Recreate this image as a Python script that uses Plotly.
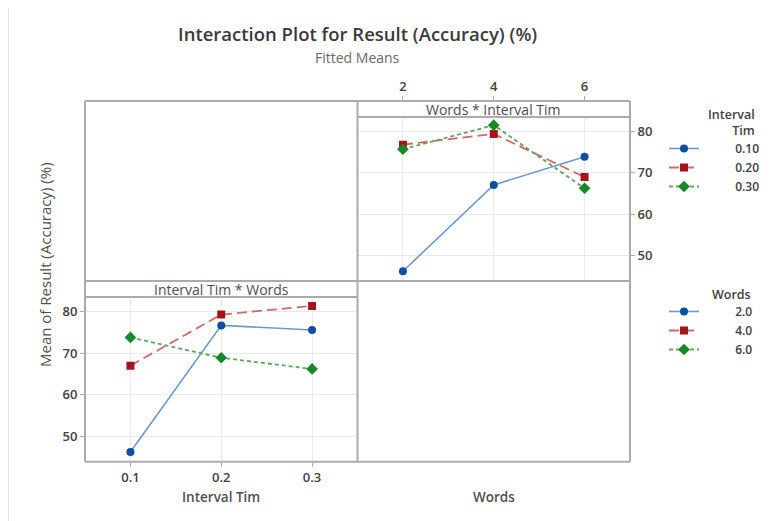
import plotly.graph_objects as go

# ---- data (fitted means) ----
interval_levels = [0.1, 0.2, 0.3]
interval_labels = ["0.10", "0.20", "0.30"]
words_levels = [2, 4, 6]
words_labels = ["2.0", "4.0", "6.0"]
# rows: interval time 0.1, 0.2, 0.3 ; columns: words 2, 4, 6
means_int_01 = [46.2, 67.0, 73.8]
means_int_02 = [76.7, 79.3, 68.9]
means_int_03 = [75.6, 81.4, 66.2]
means = [means_int_01, means_int_02, means_int_03]

# page body has an 8px margin; figure is sized to fit the 772x521 window
OFF = 8
W, H = 772 - OFF, 521 - OFF
def fx(px):
    return (px - OFF) / W
def fy(py):
    return 1 - (py - OFF) / H

FONT = "Open Sans"
TXT = "#404040"
BORDER = "#ababab"
GRID = "#e9e9e9"
NB = "\u00a0"

styles = [
    dict(line=dict(color="#6f98c9", width=1.6, dash="solid"),
         marker=dict(color="#0b4f9e", symbol="circle", size=8)),
    dict(line=dict(color="#cd6a6a", width=1.8, dash="10px,5px"),
         marker=dict(color="#a3151b", symbol="square", size=8)),
    dict(line=dict(color="#5fa35f", width=1.8, dash="4px,3px"),
         marker=dict(color="#168a28", symbol="diamond", size=9)),
]

fig = go.Figure()

# bottom-left panel: x = interval time, lines by words
for j, wl in enumerate(words_labels):
    fig.add_trace(go.Scatter(
        x=interval_levels, y=[means[i][j] for i in range(3)],
        mode="lines+markers", name=NB * 10 + wl, legend="legend2",
        xaxis="x", yaxis="y", **styles[j]))

# top-right panel: x = words, lines by interval time
for i, il in enumerate(interval_labels):
    fig.add_trace(go.Scatter(
        x=words_levels, y=means[i],
        mode="lines+markers", name=NB * 10 + il, legend="legend",
        xaxis="x2", yaxis="y2", **styles[i]))

tickfont = dict(family=FONT, size=13, color=TXT, weight=600)
common = dict(showline=False, zeroline=False, showgrid=True, gridcolor=GRID,
              gridwidth=1, ticks="outside", ticklen=4, tickcolor=BORDER,
              tickfont=tickfont, fixedrange=True)

PL, PM, PR = 85, 357.5, 630
PT, PH, PB = 101, 281, 461.7
S = 4.15  # px per unit

legfont = dict(family=FONT, size=12, color=TXT, weight=600)
fig.update_layout(
    width=W, height=H,
    margin=dict(l=0, r=0, t=0, b=0),
    paper_bgcolor="white", plot_bgcolor="white",
    showlegend=True,
    xaxis=dict(domain=[fx(PL), fx(PM)], range=[0.05, 0.35],
               tickvals=interval_levels, ticktext=["0.1", "0.2", "0.3"],
               anchor="y", **common),
    yaxis=dict(domain=[fy(PB), fy(297)],
               range=[80 - (PB - 311.7) / S, 80 + (311.7 - 297) / S],
               tickvals=[50, 60, 70, 80], anchor="x", side="left", **common),
    xaxis2=dict(domain=[fx(PM), fx(PR)], range=[1, 7],
                tickvals=words_levels, ticktext=["2", "4", "6"],
                anchor="y2", side="top", **common),
    yaxis2=dict(domain=[fy(PH), fy(PT)],
                range=[80 - (PH - 131) / S, 80 + (131 - PT) / S],
                tickvals=[50, 60, 70, 80], anchor="x2", side="right", **common),
    legend=dict(x=fx(664), y=fy(134), xanchor="left", yanchor="top",
                bgcolor="rgba(0,0,0,0)", borderwidth=0, font=legfont,
                itemwidth=30, tracegroupgap=0),
    legend2=dict(x=fx(664), y=fy(297), xanchor="left", yanchor="top",
                 bgcolor="rgba(0,0,0,0)", borderwidth=0, font=legfont,
                 itemwidth=30, tracegroupgap=0),
)

shapes = []
# light outer frame
shapes.append(dict(type="rect", xref="paper", yref="paper",
                   x0=fx(8.5), x1=1.05, y0=-0.05, y1=fy(7.5),
                   line=dict(color="#e4e4e4", width=1), layer="below"))
# strip (white fill to hide grid)
shapes.append(dict(type="rect", xref="paper", yref="paper",
                   x0=fx(PM), x1=fx(PR), y0=fy(117), y1=fy(PT),
                   fillcolor="white", line=dict(width=0), layer="above"))
# grid box borders
for (x0, y0, x1, y1) in [
    (PL, PT, PR, PT), (PL, PB, PR, PB), (PL, PT, PL, PB), (PR, PT, PR, PB),
    (PM, PT, PM, PB), (PL, PH, PR, PH),
    (PM, 117, PR, 117), (PL, 297, PM, 297),
]:
    shapes.append(dict(type="line", xref="paper", yref="paper",
                       x0=fx(x0), x1=fx(x1), y0=fy(y0), y1=fy(y1),
                       line=dict(color=BORDER, width=2), layer="above"))
fig.update_layout(shapes=shapes)

ann = []
def a(text, x, y, size, color=TXT, weight=400, xanchor="center", angle=0,
      align="center"):
    ann.append(dict(text=text, x=fx(x), y=fy(y), xref="paper", yref="paper",
                    showarrow=False, xanchor=xanchor, yanchor="middle",
                    textangle=angle, align=align,
                    font=dict(family=FONT, size=size, color=color, weight=weight)))

a("Interaction Plot for Result (Accuracy) (%)", 357, 33, 18.5, "#3a3a3a", 600)
a("Fitted Means", 357, 57, 14, "#6a6a6a")
a("Words * Interval Tim", (PM + PR) / 2, 109, 14, "#4e4e4e", 400)
a("Interval Tim * Words", (PL + PM) / 2, 289, 14, "#4e4e4e", 400)
a("Interval Tim", (PL + PM) / 2, 497, 13.5, "#505050", 600)
a("Words", (PM + PR) / 2, 497, 13.5, "#505050", 600)
a("Mean of Result (Accuracy) (%)", 45, 265, 15, "#505050", 400, angle=-90)
a("Interval<br>Tim", 757, 123, 12.5, TXT, 600, xanchor="right", align="right")
a("Words", 753, 294, 12.5, TXT, 600, xanchor="right")
fig.update_layout(annotations=ann)

fig.write_html("out.html")
